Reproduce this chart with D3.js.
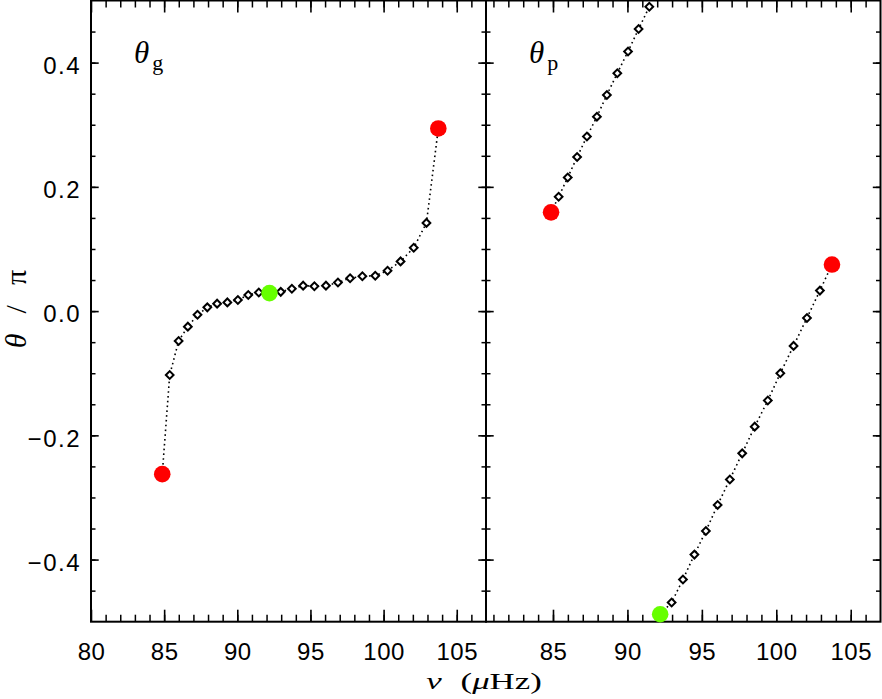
<!DOCTYPE html>
<html>
<head>
<meta charset="utf-8">
<script src="https://cdn.jsdelivr.net/npm/d3@7"></script>
<style>
  body { margin: 0; background: #fff; }
  svg { display: block; }
</style>
</head>
<body>
<svg id="chart" width="882" height="699"></svg>
<script>
// mode frequencies (muHz), shared by both panels
const freqs = [84.87, 85.38, 85.99, 86.62, 87.28, 87.95, 88.62, 89.32, 90.04, 90.75, 91.47,
  92.2, 92.97, 93.73, 94.5, 95.27, 96.06, 96.88, 97.71, 98.55, 99.43, 100.27, 101.16,
  102.06, 102.93, 103.74];
const thetaG = [-0.2625, -0.103, -0.048, -0.025, -0.006, 0.006, 0.012, 0.014, 0.018, 0.026, 0.030,
  0.029, 0.031, 0.036, 0.041, 0.040, 0.041, 0.046, 0.053, 0.056, 0.057, 0.065, 0.080,
  0.102, 0.142, 0.294];
const thetaP = [0.159, 0.184, 0.215, 0.248, 0.281, 0.313, 0.348, 0.383, 0.418, 0.454, 0.490,
  -0.488, -0.469, -0.432, -0.392, -0.354, -0.312, -0.271, -0.229, -0.186, -0.144, -0.100, -0.056,
  -0.011, 0.033, 0.075];
const redIndex = [0, 25];
const greenIndex = [11];

const xTicksLeft = [80, 85, 90, 95, 100, 105];
const xTicksRight = [85, 90, 95, 100, 105];
const xMinor = d3.range(81, 108, 1);
const yTicks = [-0.4, -0.2, 0.0, 0.2, 0.4];
const yTickLabels = ["\u22120.4", "\u22120.2", "0.0", "0.2", "0.4"];
const yMinor = d3.range(-0.45, 0.5, 0.05);

const svg = d3.select("#chart");
const plotTop = 0.5, plotBottom = 621.7;
const y = d3.scaleLinear().domain([-0.5, 0.5]).range([plotBottom, plotTop]);

const panels = [
  { sub: "g", values: thetaG, ticks: xTicksLeft, showY: true,
    x: d3.scaleLinear().domain([80, 107]).range([91, 486]) },
  { sub: "p", values: thetaP, ticks: xTicksRight, showY: false,
    x: d3.scaleLinear().domain([80.5, 107]).range([486, 880.5]) }
];

const labelFont = "Liberation Sans, Arial, sans-serif";
const mathFont = "Liberation Serif, DejaVu Serif, serif";

function styleTicks(g, w) {
  g.select(".domain").remove();
  g.selectAll("line").attr("stroke", "#000").attr("stroke-width", w);
}

panels.forEach((p) => {
  const x = p.x;
  const x0 = x.range()[0], x1 = x.range()[1];
  const minors = xMinor.filter((v) => v > x.domain()[0] && v < x.domain()[1]);

  // x ticks, bottom and top, pointing inward
  svg.append("g").attr("transform", `translate(0,${plotBottom})`)
    .call(d3.axisBottom(x).tickValues(minors).tickSize(-7).tickFormat(""))
    .call(styleTicks, 1.5);
  svg.append("g").attr("transform", `translate(0,${plotBottom})`)
    .call(d3.axisBottom(x).tickValues(p.ticks).tickSize(-12).tickPadding(21))
    .call(styleTicks, 1.6)
    .call((g) => g.selectAll("text").attr("font-family", labelFont).attr("font-size", 24)
      .attr("fill", "#000").attr("letter-spacing", 0.5));
  svg.append("g").attr("transform", `translate(0,${plotTop})`)
    .call(d3.axisTop(x).tickValues(minors).tickSize(-7).tickFormat(""))
    .call(styleTicks, 1.5);
  svg.append("g").attr("transform", `translate(0,${plotTop})`)
    .call(d3.axisTop(x).tickValues(p.ticks).tickSize(-12).tickFormat(""))
    .call(styleTicks, 1.6);

  // y ticks, left and right
  svg.append("g").attr("transform", `translate(${x0},0)`)
    .call(d3.axisLeft(y).tickValues(yMinor).tickSize(-4.5).tickFormat(""))
    .call(styleTicks, 1.5);
  const yl = svg.append("g").attr("transform", `translate(${x0},0)`)
    .call(d3.axisLeft(y).tickValues(yTicks).tickSize(-7.7).tickPadding(10)
      .tickFormat((d, i) => (p.showY ? yTickLabels[i] : "")))
    .call(styleTicks, 1.6);
  yl.selectAll("text").attr("font-family", labelFont).attr("font-size", 24)
    .attr("fill", "#000").attr("dy", "0.45em").attr("letter-spacing", 1.5);
  svg.append("g").attr("transform", `translate(${x1},0)`)
    .call(d3.axisRight(y).tickValues(yMinor).tickSize(-4.5).tickFormat(""))
    .call(styleTicks, 1.5);
  svg.append("g").attr("transform", `translate(${x1},0)`)
    .call(d3.axisRight(y).tickValues(yTicks).tickSize(-7.7).tickFormat(""))
    .call(styleTicks, 1.6);

  // frame
  svg.append("rect")
    .attr("x", x0).attr("y", plotTop)
    .attr("width", x1 - x0).attr("height", plotBottom - plotTop)
    .attr("fill", "none").attr("stroke", "#000").attr("stroke-width", 2);

  // data, split where the phase wraps
  const pts = freqs.map((f, i) => [f, p.values[i]]);
  const segments = [[pts[0]]];
  for (let i = 1; i < pts.length; i++) {
    if (Math.abs(pts[i][1] - pts[i - 1][1]) > 0.5) segments.push([]);
    segments[segments.length - 1].push(pts[i]);
  }
  const line = d3.line().x((d) => x(d[0])).y((d) => y(d[1]));
  svg.append("g").selectAll("path").data(segments).join("path")
    .attr("d", line)
    .attr("fill", "none").attr("stroke", "#000")
    .attr("stroke-width", 1.6).attr("stroke-dasharray", "1.6,3.2");

  const diamond = d3.symbol(d3.symbolSquare, 30);
  svg.append("g").selectAll("path").data(pts).join("path")
    .attr("d", diamond)
    .attr("transform", (d) => `translate(${x(d[0])},${y(d[1])}) rotate(45)`)
    .attr("fill", "#fff").attr("stroke", "#000").attr("stroke-width", 2);

  svg.append("g").selectAll("circle").data(redIndex.map((i) => pts[i])).join("circle")
    .attr("cx", (d) => x(d[0])).attr("cy", (d) => y(d[1])).attr("r", 8.3)
    .attr("fill", "#ff0000");
  svg.append("g").selectAll("circle").data(greenIndex.map((i) => pts[i])).join("circle")
    .attr("cx", (d) => x(d[0])).attr("cy", (d) => y(d[1])).attr("r", 8.3)
    .attr("fill", "#66ff00");

  // panel label
  const lab = svg.append("text")
    .attr("x", x0 + 43).attr("y", 63)
    .attr("font-family", mathFont).attr("font-size", 31).attr("fill", "#000");
  lab.append("tspan").attr("font-style", "italic").text("\u03b8");
  lab.append("tspan").attr("font-size", 22).attr("dx", 3).attr("dy", 7).text(p.sub);
});

// axis titles
const xt = svg.append("text")
  .attr("transform", "translate(484,689) scale(1.45,1)").attr("text-anchor", "middle")
  .attr("font-family", mathFont).attr("font-size", 24).attr("fill", "#000");
xt.append("tspan").attr("font-style", "italic").text("\u03bd");
xt.append("tspan").attr("dx", 13).text("(");
xt.append("tspan").attr("font-style", "italic").text("\u03bc");
xt.append("tspan").text("Hz)");

const yt = svg.append("text")
  .attr("transform", "translate(26,309) rotate(-90)").attr("text-anchor", "middle")
  .attr("font-family", mathFont).attr("font-size", 30).attr("fill", "#000");
yt.append("tspan").attr("font-style", "italic").text("\u03b8");
yt.append("tspan").attr("dx", 20).text("/");
yt.append("tspan").attr("dx", 20).text("\u03c0");
</script>
</body>
</html>
